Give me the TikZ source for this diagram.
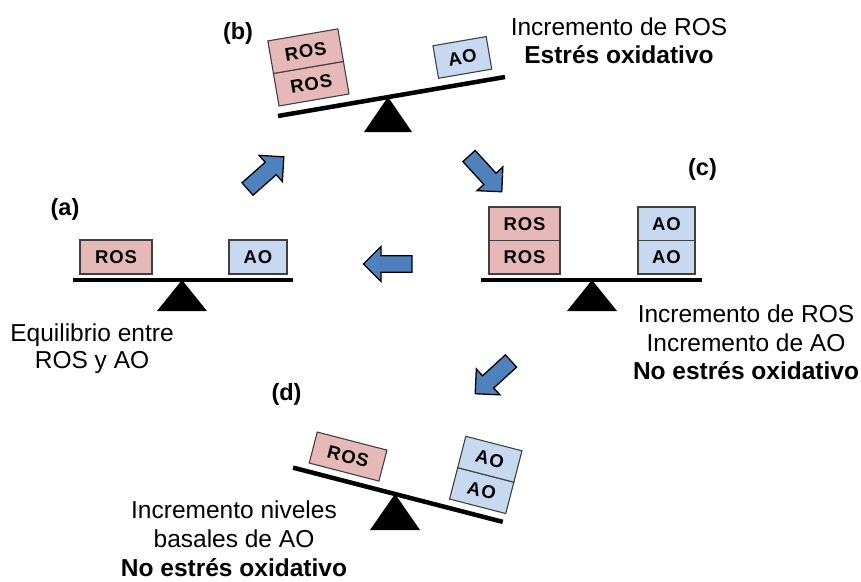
\documentclass[tikz,border=0pt]{standalone}
\usepackage{fontspec}
\setmainfont{Liberation Sans}
\newfontfamily\boxfont[LetterSpace=5]{Liberation Sans}
\definecolor{rosfill}{HTML}{E6B9B8}
\definecolor{aofill}{HTML}{C6D9F1}
\definecolor{arrowblue}{HTML}{4F81BD}
\definecolor{boxedge}{HTML}{404040}
\tikzset{
  rosbox/.style={draw=boxedge, line width=1.1pt, fill=rosfill, minimum width=71pt, minimum height=33pt, inner sep=0pt, font=\boxfont\bfseries\fontsize{18.5}{20}\selectfont},
  aobox/.style={rosbox, fill=aofill, minimum width=57pt},
  beam/.style={line width=4.5pt},
  fulcrum/.style={fill=black},
  caption/.style={align=center, font=\fontsize{24.5}{28.5}\selectfont, inner sep=0pt},
  tag/.style={font=\bfseries\fontsize{23.5}{28}\selectfont, inner sep=0pt},
  blockarrow/.pic={\draw[fill=arrowblue, draw=black, line width=1.3pt, line join=miter] (0,-8.3) -- (31,-8.3) -- (31,-17.5) -- (48.5,0) -- (31,17.5) -- (31,8.3) -- (0,8.3) -- cycle;}
}
\begin{document}
\begin{tikzpicture}[x=1pt,y=-1pt]
\useasboundingbox (0,0) rectangle (861,581);

% (a) balance
\begin{scope}[shift={(182,280)}]
  \coordinate (aL) at (-109,0); \coordinate (aR) at (111,0);
  \draw[beam] (aL) -- (aR);
  \node[rosbox, minimum width=72pt, minimum height=34pt] (aROS) at (-66,-23) {ROS};
  \node[aobox, minimum width=58pt, minimum height=34pt] (aAO) at (76,-23) {AO};
\end{scope}
\coordinate (aP) at (182,280);
\fill[fulcrum] (aP) -- ++(-25,31) -- ++(50,0) -- cycle;

% (b) balance
\begin{scope}[shift={(388,97.1)}, rotate=9.75, transform shape]
  \coordinate (bL) at (-111.6,0); \coordinate (bR) at (118.7,0);
  \draw[beam] (bL) -- (bR);
  \node[rosbox] (bROS1) at (-73.4,-26.2) {ROS};
  \node[rosbox] (bROS2) at (-73.4,-59.2) {ROS};
  \node[aobox, minimum width=54pt] (bAO) at (80,-26.5) {AO};
\end{scope}
\coordinate (bP) at (388,97);
\fill[fulcrum] (bP) -- ++(-24,35) -- ++(48,0) -- cycle;

% (c) balance
\begin{scope}[shift={(592,280)}]
  \coordinate (cL) at (-111,0); \coordinate (cR) at (110,0);
  \draw[beam] (cL) -- (cR);
  \node[rosbox, minimum height=33.5pt] (cROS1) at (-67.5,-22.75) {ROS};
  \node[rosbox, minimum height=33.5pt] (cROS2) at (-67.5,-56.25) {ROS};
  \node[aobox, minimum height=33.5pt] (cAO1) at (74.5,-22.75) {AO};
  \node[aobox, minimum height=33.5pt] (cAO2) at (74.5,-56.25) {AO};
\end{scope}
\coordinate (cP) at (592,280);
\fill[fulcrum] (cP) -- ++(-25,31) -- ++(50,0) -- cycle;

% (d) balance
\begin{scope}[shift={(395,494)}, rotate=-14.5, transform shape]
  \coordinate (dL) at (-105.3,0); \coordinate (dR) at (111.3,0);
  \draw[beam] (dL) -- (dR);
  \node[rosbox, minimum width=72pt, minimum height=32pt] (dROS) at (-54.8,-24.5) {ROS};
  \node[aobox, minimum width=58pt, minimum height=32.4pt] (dAO1) at (83.1,-25) {AO};
  \node[aobox, minimum width=58pt, minimum height=32.4pt] (dAO2) at (83.1,-57.4) {AO};
\end{scope}
\coordinate (dP) at (395,494);
\fill[fulcrum] (dP) -- ++(-25,36) -- ++(50,0) -- cycle;

% block arrows
\pic[rotate=41.5] at (247.5,189) {blockarrow};
\pic[rotate=-47.5] at (469,156) {blockarrow};
\pic[rotate=180] at (412,264) {blockarrow};
\pic[rotate=-137.6] at (511,361) {blockarrow};

% labels
\node[tag] (la) at (65,209) {(a)};
\node[tag] (lb) at (238,33) {(b)};
\node[tag] (lc) at (702.5,169) {(c)};
\node[tag] (ld) at (286.5,394) {(d)};

% captions
\node[caption, font=\fontsize{24.5}{27.6}\selectfont] (ta) at (92,348.7) {Equilibrio entre\\ROS y AO};
\node[caption, font=\fontsize{24.5}{27.5}\selectfont] (tb) at (619,40.8) {Incremento de ROS\\\textbf{Estrés oxidativo}};
\node[caption] (tc) at (746,342.5) {Incremento de ROS\\Incremento de AO\\\textbf{No estrés oxidativo}};
\node[caption, font=\fontsize{24.5}{29}\selectfont] (td) at (234,538.5) {Incremento niveles\\basales de AO\\\textbf{No estrés oxidativo}};
\end{tikzpicture}
\end{document}
